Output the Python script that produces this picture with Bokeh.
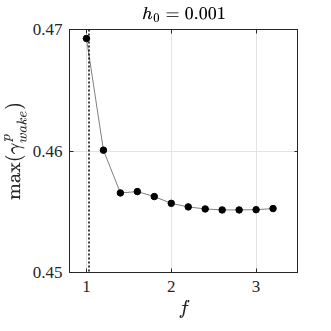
from bokeh.plotting import figure
from bokeh.models import LinearAxis, Span, FixedTicker, Range1d
from bokeh.embed import file_html
from bokeh.resources import INLINE

f_vals = [1.0, 1.2, 1.4, 1.6, 1.8, 2.0, 2.2, 2.4, 2.6, 2.8, 3.0, 3.2]
gamma_max = [0.46926, 0.46007, 0.45655, 0.45666, 0.45625, 0.45569,
             0.45540, 0.45523, 0.45515, 0.45515, 0.45517, 0.45526]
f_crit = 1.03
x_ticks = [1, 2, 3]
y_ticks = [0.45, 0.46, 0.47]
title_text = r"$$h_0 = 0.001$$"
x_label = r"$$f$$"
y_label = r"$$\max(\gamma^p_{wake})$$"

SERIF = "Liberation Serif"
INK = "#262626"

p = figure(width=315, height=315, output_backend="svg", toolbar_location=None,
           x_range=Range1d(0.8, 3.5), y_range=Range1d(0.45, 0.47),
           frame_width=229, frame_height=243,
           min_border_left=63, min_border_right=0, min_border_top=0, min_border_bottom=0,
           title=title_text)
p.title.align = "center"
p.title.text_font = SERIF
p.title.text_font_size = "17px"
p.title.text_font_style = "normal"
p.title.text_color = "black"
p.title.standoff = 8
p.title.offset = 0

p.outline_line_color = INK
p.outline_line_width = 1
p.background_fill_color = "white"
p.border_fill_color = "white"

for ax in [p.xaxis[0], p.yaxis[0]]:
    ax.major_tick_in = 4
    ax.major_tick_out = 0
    ax.minor_tick_in = 0
    ax.minor_tick_out = 0
    ax.axis_line_color = INK
    ax.major_tick_line_color = INK
    ax.major_label_text_font = SERIF
    ax.major_label_text_font_size = "17px"
    ax.major_label_text_color = INK
    ax.axis_label_text_font = SERIF
    ax.axis_label_text_font_style = "normal"
    ax.axis_label_text_color = INK

p.xaxis[0].axis_label_text_font_size = "19px"
p.yaxis[0].axis_label_text_font_size = "18px"
p.xaxis[0].ticker = FixedTicker(ticks=x_ticks)
p.yaxis[0].ticker = FixedTicker(ticks=y_ticks)
p.xaxis[0].axis_label = x_label
p.yaxis[0].axis_label = y_label
p.xaxis[0].major_label_standoff = 8
p.yaxis[0].major_label_standoff = 7
p.xaxis[0].axis_label_standoff = 5
p.yaxis[0].axis_label_standoff = 3

top_ax = LinearAxis(ticker=FixedTicker(ticks=x_ticks),
                    major_label_overrides={t: "" for t in x_ticks},
                    major_tick_in=4, major_tick_out=0, minor_tick_in=0, minor_tick_out=0,
                    major_label_standoff=0,
                    axis_line_color=INK, major_tick_line_color=INK)
right_ax = LinearAxis(ticker=FixedTicker(ticks=y_ticks),
                      major_label_overrides={t: "" for t in y_ticks},
                      major_tick_in=4, major_tick_out=0, minor_tick_in=0, minor_tick_out=0,
                      major_label_standoff=0,
                      axis_line_color=INK, major_tick_line_color=INK)
p.add_layout(top_ax, "above")
p.add_layout(right_ax, "right")

p.xgrid.ticker = FixedTicker(ticks=x_ticks)
p.ygrid.ticker = FixedTicker(ticks=y_ticks)
p.grid.grid_line_color = "#e3e3e3"
p.grid.grid_line_width = 1

p.add_layout(Span(location=f_crit, dimension="height", line_color="black",
                  line_width=1.5, line_dash="2 2"))

p.line(f_vals, gamma_max, line_color="#808080", line_width=1)
p.scatter(f_vals, gamma_max, size=6.5, fill_color="black", line_color="black")

open("out.html", "w").write(file_html(p, INLINE))
